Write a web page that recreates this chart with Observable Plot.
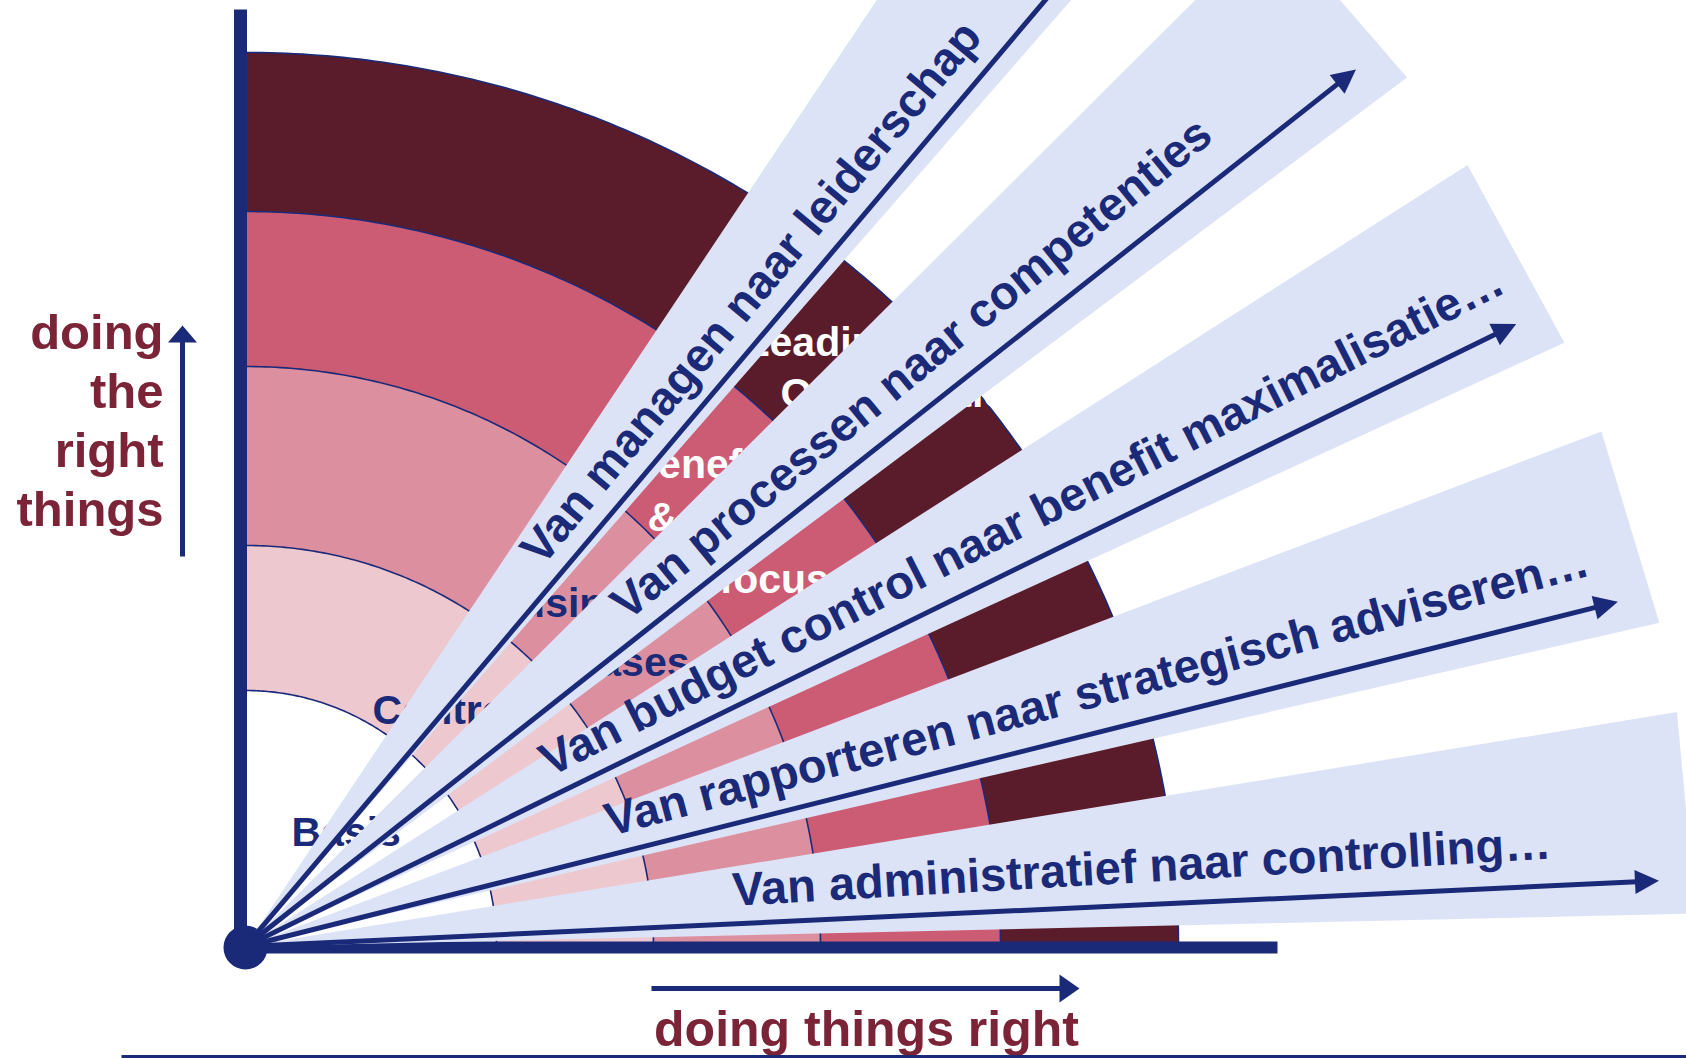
<!DOCTYPE html>
<html>
<head>
<meta charset="utf-8">
<script src="https://cdn.jsdelivr.net/npm/d3@7"></script>
<script src="https://cdn.jsdelivr.net/npm/@observablehq/plot@0.6"></script>
<style>
html, body { margin: 0; padding: 0; background: #ffffff; overflow: hidden; }
#chart svg { display: block; }
</style>
</head>
<body>
<div id="chart"></div>
<script>
// ---------------- data ----------------
// concentric maturity rings (inner to outer)
const ringNames   = ["Basis", "Control", "Business cases", "Benefit & risk focus", "Leading Organisatie"];
const ringColors  = ["#ffffff", "#edc8cf", "#dc909f", "#cc5c74", "#5a1c2a"];
const ringRadiusX = [251, 408, 575, 755, 933];   // outer edge along the "doing things right" axis
const ringRadiusY = [256, 401, 580, 735, 894];   // outer edge along the "doing the right things" axis
const ringLabelLines = [
  ["Basis"],
  ["Control"],
  ["Business", "cases"],
  ["Benefit", "& risk", "focus"],
  ["Leading", "Organisatie"]
];

// the five transition beams (angles in degrees from the horizontal axis)
const beamLabels = [
  "Van managen naar leiderschap",
  "Van processen naar competenties",
  "Van budget control naar benefit maximalisatie…",
  "Van rapporteren naar strategisch adviseren…",
  "Van administratief naar controlling…"
];
const beamLow    = [48.9, 36.8, 24.6, 12.9, 1.3];
const beamHigh   = [56.3, 44.9, 32.6, 20.8, 9.3];
const arrowAngle = [49.8, 38.3, 26.1, 14.1, 2.66];
const textAngle  = [50.2, 39.4, 26.9, 14.9, 3.3];

const yAxisLabel = ["doing", "the", "right", "things"];
const xAxisLabel = "doing things right";

// ---------------- layout ----------------
const W = 1686, H = 1058;
const navy = "#1b2a78";
const beamFill = "#dde3f6";
const maroonText = "#7b2337";
const font = "'Liberation Sans', Arial, Helvetica, sans-serif";
const beamLength = 1447, arrowLength = 1415, headLen = 24, headHalf = 12;
const textStart = [481, 501, 348, 380, 489];
const textOffset = 18;
// baseline-left anchors of ring label lines (same units as the radii)
const ringLabelAnchor = [
  [[46, 101]],
  [[127, 223]],
  [[245, 330], [330, 271]],
  [[383, 469], [402, 416], [474, 354]],
  [[499, 591], [535, 540]]
];
const ringLabelColor = [navy, navy, navy, "#ffffff", "#ffffff"];

const rad = d => d * Math.PI / 180;
const polar = (r, a) => [r * Math.cos(rad(a)), r * Math.sin(rad(a))];

// ring polygons
const ringPoly = [];
const N = 180;
ringColors.forEach((c, i) => {
  for (let k = 0; k <= N; k++) {
    const t = rad(90 * k / N);
    ringPoly.push({ring: i, x: ringRadiusX[i] * Math.cos(t), y: ringRadiusY[i] * Math.sin(t)});
  }
  if (i === 0) ringPoly.push({ring: i, x: 0, y: 0});
  else for (let k = N; k >= 0; k--) {
    const t = rad(90 * k / N);
    ringPoly.push({ring: i, x: ringRadiusX[i - 1] * Math.cos(t), y: ringRadiusY[i - 1] * Math.sin(t)});
  }
});
// ring boundary arcs
const arcPts = [];
ringRadiusX.forEach((rx, i) => {
  for (let k = 0; k <= N; k++) {
    const t = rad(90 * k / N);
    arcPts.push({b: i, x: rx * Math.cos(t), y: ringRadiusY[i] * Math.sin(t)});
  }
});
// ring labels
const ringLabels = [];
ringLabelLines.forEach((lines, i) => lines.forEach((txt, j) => {
  const [x, y] = ringLabelAnchor[i][j];
  ringLabels.push({text: txt, x, y, color: ringLabelColor[i]});
}));

// beams
const beamPoly = [];
const arrows = [];
const heads = [];
const beamTexts = [];
beamLabels.forEach((label, j) => {
  const half = (beamHigh[j] - beamLow[j]) / 2;
  const r = beamLength / Math.cos(rad(half));
  const p1 = polar(r, beamLow[j]), p2 = polar(r, beamHigh[j]);
  beamPoly.push({b: j, x: 0, y: 0}, {b: j, x: p1[0], y: p1[1]}, {b: j, x: p2[0], y: p2[1]}, {b: j, x: 0, y: 0});
  const a = arrowAngle[j];
  const base = polar(arrowLength - headLen, a);
  const tip = polar(arrowLength, a);
  const nx = -Math.sin(rad(a)), ny = Math.cos(rad(a));
  arrows.push({x1: 0, y1: 0, x2: base[0] + 2 * Math.cos(rad(a)), y2: base[1] + 2 * Math.sin(rad(a))});
  heads.push({h: j, x: tip[0], y: tip[1]},
             {h: j, x: base[0] + nx * headHalf, y: base[1] + ny * headHalf},
             {h: j, x: base[0] - nx * headHalf, y: base[1] - ny * headHalf},
             {h: j, x: tip[0], y: tip[1]});
  const s = polar(textStart[j], a);
  beamTexts.push({text: label, x: s[0] + nx * textOffset, y: s[1] + ny * textOffset, rot: -textAngle[j]});
});

// side arrows
const sideShafts = [
  {x1: -63, y1: 390, x2: -63, y2: 607},
  {x1: 406, y1: -42, x2: 815, y2: -42}
];
const sideHeads = [
  {h: 0, x: -63, y: 621}, {h: 0, x: -77.5, y: 604}, {h: 0, x: -48.5, y: 604}, {h: 0, x: -63, y: 621},
  {h: 1, x: 834, y: -42}, {h: 1, x: 814, y: -56}, {h: 1, x: 814, y: -28}, {h: 1, x: 834, y: -42}
];

const chart = Plot.plot({
  width: W,
  height: H,
  marginTop: 0, marginRight: 0, marginBottom: 0, marginLeft: 0,
  x: {domain: [-245, W - 245], axis: null},
  y: {domain: [-112, 946], axis: null},
  color: {type: "identity"},
  style: {background: "#ffffff", fontFamily: font, overflow: "hidden"},
  marks: [
    Plot.line(ringPoly, {x: "x", y: "y", z: "ring", fill: d => ringColors[d.ring], stroke: null, curve: "linear"}),
    Plot.line(arcPts, {x: "x", y: "y", z: "b", stroke: navy, strokeWidth: 1.6, curve: "linear"}),
    Plot.text(ringLabels, {x: "x", y: "y", text: "text", fill: "color", textAnchor: "start", lineAnchor: "bottom",
      fontSize: 41, fontWeight: "bold", fontFamily: font}),
    // axes bars
    Plot.link([{x1: -5, y1: 0, x2: -5, y2: 937}], {x1: "x1", y1: "y1", x2: "x2", y2: "y2", stroke: navy, strokeWidth: 13}),
    Plot.link([{x1: -5, y1: -1, x2: 1032, y2: -1}], {x1: "x1", y1: "y1", x2: "x2", y2: "y2", stroke: navy, strokeWidth: 12}),
    Plot.dot([{x: 0, y: -1}], {x: "x", y: "y", r: 22, fill: navy, stroke: null}),
    // beams
    Plot.line(beamPoly, {x: "x", y: "y", z: "b", fill: beamFill, stroke: null, curve: "linear"}),
    Plot.link(arrows, {x1: "x1", y1: "y1", x2: "x2", y2: "y2", stroke: navy, strokeWidth: 5}),
    Plot.line(heads, {x: "x", y: "y", z: "h", fill: navy, stroke: null, curve: "linear"}),
    Plot.text(beamTexts, {x: "x", y: "y", text: "text", rotate: "rot", textAnchor: "start", lineAnchor: "bottom",
      fontSize: 47, fontWeight: "bold", fill: navy, fontFamily: font}),
    // side labels
    Plot.link(sideShafts, {x1: "x1", y1: "y1", x2: "x2", y2: "y2", stroke: navy, strokeWidth: 5}),
    Plot.line(sideHeads, {x: "x", y: "y", z: "h", fill: navy, stroke: null, curve: "linear"}),
    Plot.text([yAxisLabel.join("\n")], {x: -82, y: 421, text: d => d, textAnchor: "end", lineAnchor: "bottom",
      lineHeight: 1.2, fontSize: 49, fontWeight: "bold", fill: maroonText, fontFamily: font}),
    Plot.text([xAxisLabel], {x: 621, y: -99, text: d => d, textAnchor: "middle", lineAnchor: "bottom",
      fontSize: 50, fontWeight: "bold", fill: maroonText, fontFamily: font}),
    Plot.link([{x1: -124, y1: -110, x2: W - 245, y2: -110}], {x1: "x1", y1: "y1", x2: "x2", y2: "y2", stroke: navy, strokeWidth: 3})
  ]
});
document.getElementById("chart").appendChild(chart);
</script>
</body>
</html>
